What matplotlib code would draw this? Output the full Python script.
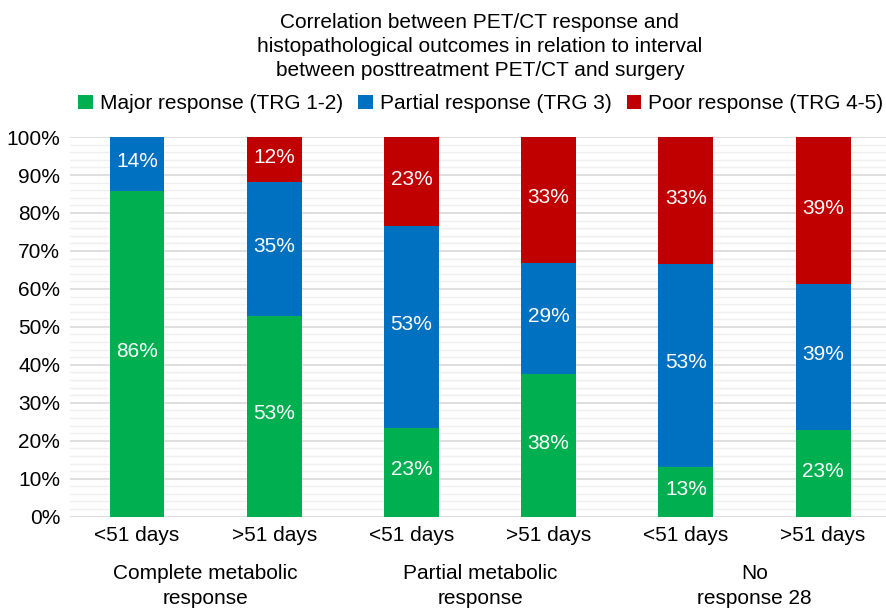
import numpy as np
import matplotlib.pyplot as plt
from matplotlib.ticker import MultipleLocator, PercentFormatter

plt.rcParams['font.family'] = ['Liberation Sans', 'DejaVu Sans']

# data (percent of patients per bar)
bar_labels = ['<51 days', '>51 days', '<51 days', '>51 days', '<51 days', '>51 days']
groups = ['Complete metabolic\nresponse', 'Partial metabolic\nresponse', 'No\nresponse 28']
major = [85.7, 52.9, 23.4, 37.6, 13.2, 22.8]
partial = [14.3, 35.3, 53.2, 29.1, 53.4, 38.6]
poor = [0.0, 11.8, 23.4, 33.3, 33.4, 38.6]

series = [
    ('Major response (TRG 1-2)', major, '#00B050'),
    ('Partial response (TRG 3)', partial, '#0070C0'),
    ('Poor response (TRG 4-5)', poor, '#C00000'),
]

fig = plt.figure(figsize=(8.87, 6.10), dpi=100)
ax = fig.add_axes([0.079, 0.153, 0.921, 0.6223])

x = np.arange(len(bar_labels))
bottom = np.zeros(len(x))
for name, vals, col in series:
    vals = np.array(vals)
    ax.bar(x, vals, 0.4, bottom=bottom, color=col, label=name, zorder=3)
    for xi, b, v in zip(x, bottom, vals):
        if v > 0:
            # round half up like the spreadsheet does
            ax.text(xi, b + v / 2 + 0.6, '%d%%' % int(v + 0.5), ha='center', va='center',
                    color='white', fontsize=15, zorder=4)
    bottom += vals

ax.set_xlim(-0.488, 5.466)
ax.set_ylim(0, 100)
ax.yaxis.set_major_locator(MultipleLocator(10))
ax.yaxis.set_minor_locator(MultipleLocator(2))
ax.yaxis.set_major_formatter(PercentFormatter(decimals=0))
ax.grid(axis='y', which='major', color='#d9d9d9', lw=1.2, zorder=0)
ax.grid(axis='y', which='minor', color='#efefef', lw=1.0, zorder=0)
for s in ax.spines.values():
    s.set_visible(False)
ax.tick_params(which='both', length=0, labelsize=15)
ax.tick_params(axis='x', pad=7)
ax.tick_params(axis='y', pad=7)
ax.set_xticks(x)
ax.set_xticklabels(bar_labels)

for i, g in enumerate(groups):
    ax.text(2 * i + 0.5, -0.125, g, transform=ax.get_xaxis_transform(),
            ha='center', va='top', fontsize=15, linespacing=1.4)

fig.text(0.541, 0.979, 'Correlation between PET/CT response and\n'
         'histopathological outcomes in relation to interval\n'
         'between posttreatment PET/CT and surgery',
         ha='center', va='top', fontsize=15, linespacing=1.33)

fig.legend(loc='center', bbox_to_anchor=(0.542, 0.830), ncol=3, frameon=False,
           fontsize=15, handlelength=0.7, handleheight=0.7, handletextpad=0.35,
           columnspacing=0.72, borderaxespad=0)

fig.savefig('out.png', dpi=100)
